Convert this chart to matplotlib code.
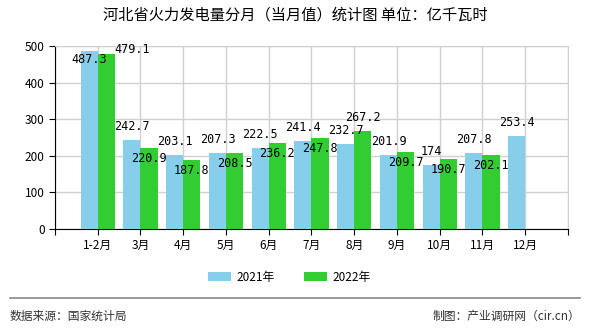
import numpy as np
import matplotlib
matplotlib.use('Agg')
import matplotlib.pyplot as plt

plt.rcParams['font.family'] = ['Noto Sans CJK SC', 'DejaVu Sans']

months = ['1-2月', '3月', '4月', '5月', '6月', '7月', '8月', '9月', '10月', '11月', '12月']
v2021 = [487.3, 242.7, 203.1, 207.3, 222.5, 241.4, 232.7, 201.9, 174, 207.8, 253.4]
v2022 = [479.1, 220.9, 187.8, 208.5, 236.2, 247.8, 267.2, 209.7, 190.7, 202.1]
lab2021 = ['487.3', '242.7', '203.1', '207.3', '222.5', '241.4', '232.7', '201.9', '174', '207.8', '253.4']
lab2022 = ['479.1', '220.9', '187.8', '208.5', '236.2', '247.8', '267.2', '209.7', '190.7', '202.1']

fig = plt.figure(figsize=(5.9, 3.3), dpi=100)
ax = fig.add_axes([0.0932, 0.306, 0.8695, 0.5546])

x = np.arange(len(months))
w = 0.4
c1 = '#87CEEB'
c2 = '#32CD32'
ymax = 500
ax.bar(x - w/2, v2021, w, color=c1, label='2021年', zorder=3)
ax.bar(x[:len(v2022)] + w/2, v2022, w, color=c2, label='2022年', zorder=3)

mono = dict(family=['DejaVu Sans Mono'], fontsize=8.5, color='black', zorder=5,
            textcoords='offset points', ha='center')
# 2021: above the bar, or just inside it when it would leave the plot
for i, (v, t) in enumerate(zip(v2021, lab2021)):
    if v > ymax - 40:
        ax.annotate(t, (i - w/2, v), xytext=(0, -2), va='top', **mono)
    else:
        ax.annotate(t, (i - w/2, v), xytext=(0, 5), va='bottom', **mono)
# 2022: just under the top, above it when much taller than 2021,
# and to the right when near the top of the plot
for i, (v, t) in enumerate(zip(v2022, lab2022)):
    if v > ymax - 40:
        m = dict(mono, ha='left')
        ax.annotate(t, (i + w, v), xytext=(0, 3), va='center', **m)
    elif v - v2021[i] > 25:
        ax.annotate(t, (i + w/2, v), xytext=(0, 5), va='bottom', **mono)
    else:
        ax.annotate(t, (i + w/2, v), xytext=(0, -3), va='top', **mono)

ax.set_xlim(-1, 11)
ax.set_ylim(0, ymax)
ax.set_yticks([0, 100, 200, 300, 400, 500])
ax.set_xticks(np.arange(-1, 12))
ax.set_xticklabels([''] + months + [''])
ax.tick_params(axis='both', labelsize=8.5, length=4, color='black')
ax.grid(True, color='#d0d0d0', linewidth=1, zorder=0)
for s in ['top', 'right']:
    ax.spines[s].set_color('#d0d0d0')
for s in ['left', 'bottom']:
    ax.spines[s].set_color('black')

fig.text(0.5, 0.953, '河北省火力发电量分月（当月值）统计图 单位：亿千瓦时', ha='center', va='center',
         fontsize=11, fontweight='medium')
fig.legend(loc='center', bbox_to_anchor=(0.49, 0.16), ncol=2, frameon=False,
           fontsize=8.5, handlelength=2, handleheight=0.8, columnspacing=2.5, handletextpad=0.4)
fig.add_artist(plt.Line2D([0.017, 0.983], [0.097, 0.097], color='#888888', linewidth=1.2))
fig.text(0.017, 0.042, '数据来源：国家统计局', ha='left', va='center', fontsize=8.5, color='#333333')
fig.text(0.983, 0.042, '制图：产业调研网（cir.cn）', ha='right', va='center', fontsize=8.5, color='#333333')

fig.savefig('out.png', dpi=100)
